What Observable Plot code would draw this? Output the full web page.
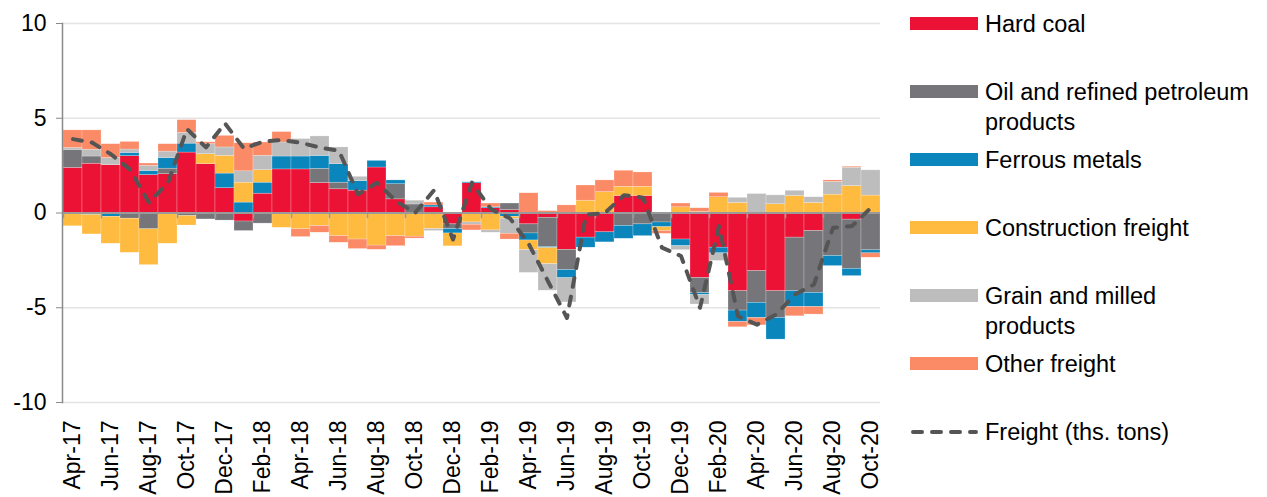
<!DOCTYPE html>
<html>
<head>
<meta charset="utf-8">
<script src="https://cdn.jsdelivr.net/npm/d3@7"></script>
<script src="https://cdn.jsdelivr.net/npm/@observablehq/plot@0.6"></script>
<style>
  html, body { margin: 0; padding: 0; background: #fff; }
  #wrap { position: relative; width: 1267px; height: 497px; font-family: "Liberation Sans", Arial, sans-serif; }
  #chart { position: absolute; left: 0; top: 0; }
  .item { position: absolute; left: 910px; display: flex; align-items: flex-start; font-size: 23.5px; line-height: 30px; color: #000; }
  .sw { width: 68px; height: 13px; margin-top: 8px; margin-right: 7px; flex: none; }
</style>
</head>
<body>
<div id="wrap"><div id="chart"></div><div id="legend"></div></div>
<script>
const months = ["Apr-17","May-17","Jun-17","Jul-17","Aug-17","Sep-17","Oct-17","Nov-17","Dec-17",
  "Jan-18","Feb-18","Mar-18","Apr-18","May-18","Jun-18","Jul-18","Aug-18","Sep-18","Oct-18","Nov-18","Dec-18",
  "Jan-19","Feb-19","Mar-19","Apr-19","May-19","Jun-19","Jul-19","Aug-19","Sep-19","Oct-19","Nov-19","Dec-19",
  "Jan-20","Feb-20","Mar-20","Apr-20","May-20","Jun-20","Jul-20","Aug-20","Sep-20","Oct-20"];

const hardCoal = [2.38,2.6,2.52,3.0,2.0,2.05,3.19,2.58,1.31, -0.45,1.02,2.3,2.3,1.58,1.25,1.18,2.4,0.72,0,0.3,-0.6,
  1.57,0.25,0.15,-0.6,-0.25,-1.95,-1.3,-1.02,0.9,0.9,0,-1.4, -3.43,-1.83,-4.13,-3.07,-4.13,-1.3,-0.95,0,-0.35,0];
const oil = [0.95,0.38,0,-0.3,-0.86,0.29,-0.16,-0.34,-0.4, -0.5,-0.56,0,0,0.75,0.35,0,0,0.8,0.45,0,-0.25,
  0,0,0.35,-0.48,-1.55,-1.06,0,0,-0.68,-0.6,-0.5,0, -0.8,0,-1.02,-1.67,-1.41,-2.83,-3.27,-2.27,-2.6,-1.97];
const ferrous = [0,-0.1,-0.2,0.17,0.22,0.56,0.47,0,0.77, 0.55,0.58,0.68,0.68,0.68,0.98,0.5,0.35,0.2,0,0.1,-0.23,
  0.05,0.05,-0.2,-0.37,-0.05,-0.43,-0.53,-0.53,-0.68,-0.62,-0.25,-0.35, -0.1,-0.3,-0.6,-0.8,-1.14,-0.83,-0.74,-0.53,-0.38,-0.16];
const construction = [-0.7,-1.03,-1.42,-1.8,-1.89,-1.62,-0.5,0.52,0.94, 1.05,0.66,-0.78,-0.86,-0.69,-1.22,-1.4,-1.72,-1.22,-1.25,-0.85,-0.68,
  -0.5,-0.92,-0.1,-0.51,-0.85,0,0.65,1.1,0.48,0.48,-0.2,0.3, 0.05,0.83,0.53,0,0.46,0.9,0.53,0.97,1.42,0.92];
const grain = [0.1,0.36,0.38,0.18,0.27,0.34,0.57,0.53,0.44, 0.6,0.76,0.74,0.92,1.03,0.88,0.23,0,0,0.2,-0.1,0,
  -0.12,-0.12,-0.8,-1.2,-1.4,-1.28,0,0,0,0,0,-0.21, -0.5,-0.4,0.27,1.0,0.47,0.27,0.3,0.67,0.97,1.33];
const other = [0.93,1.02,0.73,0.4,0.12,0.39,0.67,0.1,0.61, 1.48,0.7,0.55,-0.41,-0.35,-0.35,-0.5,-0.22,-0.53,-0.1,0.15,0,
  -0.3,0.2,-0.3,1.04,0.1,0.4,0.8,0.62,0.85,0.76,-0.15,0.2, 0.2,0.23,-0.28,-0.39,0,-0.49,-0.4,0.08,0.05,-0.23];
const freight = [3.9,3.72,3.1,2.3,0.55,1.6,4.43,3.46,4.73, 3.4,3.77,3.85,3.7,3.46,3.28,0.99,1.6,0.63,0.0,1.2,-1.4,
  1.6,0.2,-0.28,-1.66,-3.6,-5.54,-0.1,0.0,0.94,0.81,-1.83,-2.27, -5.0,-0.69,-5.45,-5.89,-5.36,-4.3,-3.77,-0.78,-0.69,0.28];

const seriesNames = ["Hard coal","Oil and refined petroleum products","Ferrous metals","Construction freight","Grain and milled products","Other freight"];
const seriesColors = ["#ec1235","#76767a","#0a86bd","#ffba40","#bdbdbd","#fb8a66"];
const seriesValues = [hardCoal, oil, ferrous, construction, grain, other];
const lineName = "Freight (ths. tons)";
const yTicks = [-10,-5,0,5,10];
const xTicks = months.filter((m,i) => i % 2 === 0);

const bars = months.flatMap((m, i) => seriesNames.map((s, k) => ({month: m, series: s, value: seriesValues[k][i]})));
const lineData = months.map((m, i) => ({month: m, value: freight[i]}));

const chart = Plot.plot({
  width: 900, height: 497,
  marginLeft: 62, marginRight: 20, marginTop: 23, marginBottom: 95,
  style: {fontFamily: "'Liberation Sans', Arial, sans-serif", fontSize: "23px", color: "#000", background: "#fff"},
  x: {domain: months, padding: 0},
  y: {domain: [-10, 10]},
  color: {domain: seriesNames, range: seriesColors},
  marks: [
    Plot.gridY(yTicks.filter(t => t !== 0), {stroke: "#e4e4e4", strokeOpacity: 1, strokeWidth: 1.5}),
    Plot.barY(bars, {x: "month", y: "value", fill: "series", inset: 0, stroke: "#fff", strokeWidth: 0.5, strokeOpacity: 0.45}),
    Plot.ruleY([0], {stroke: "#9a9a9a", strokeWidth: 2}),
    Plot.ruleX(xTicks, {x: d => d, y1: 0, y2: -0.3, dx: -9.5, stroke: "#9a9a9a", strokeWidth: 1.5}),
    Plot.line(lineData, {x: "month", y: "value", stroke: "#555", strokeWidth: 4, strokeDasharray: "9,10", strokeLinecap: "round"}),
    Plot.frame({anchor: "left", stroke: "#8a8a8a", strokeWidth: 1.5}),
    Plot.axisY({ticks: yTicks, tickSize: 6, tickPadding: 10, stroke: "#8a8a8a", fontSize: 23, label: null, tickFormat: d => String(d)}),
    Plot.axisX({ticks: xTicks, tickRotate: -90, tickSize: 0, tickPadding: 18, fontSize: 23, label: null})
  ]
});
document.getElementById("chart").appendChild(chart);

const legend = document.getElementById("legend");
const entries = seriesNames.map((n, k) => ({name: n, color: seriesColors[k]})).concat([{name: lineName, color: null}]);
entries.forEach((e, i) => {
  const div = document.createElement("div");
  div.className = "item";
  div.style.top = (9 + 68 * i) + "px";
  let sw;
  if (e.color) {
    sw = `<div class="sw" style="background:${e.color}"></div>`;
  } else {
    sw = `<svg class="sw" style="height:14px;margin-top:8px" width="68" height="14"><line x1="3" y1="7" x2="66" y2="7" stroke="#555" stroke-width="4" stroke-linecap="round" stroke-dasharray="9,10"/></svg>`;
  }
  const label = e.name === "Oil and refined petroleum products" ? "Oil and refined petroleum<br>products"
              : e.name === "Grain and milled products" ? "Grain and milled<br>products" : e.name;
  div.innerHTML = sw + `<div>${label}</div>`;
  legend.appendChild(div);
});
</script>
</body>
</html>
